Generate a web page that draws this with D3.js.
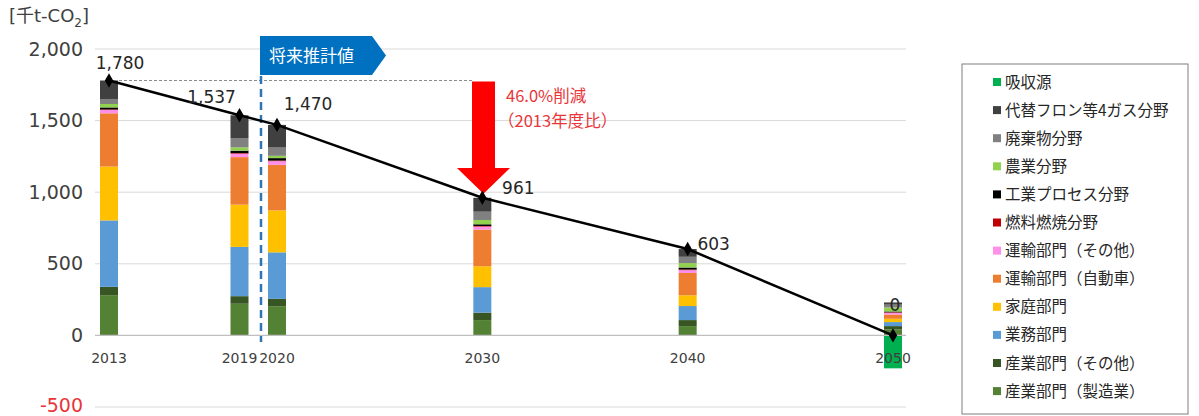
<!DOCTYPE html>
<html>
<head>
<meta charset="utf-8">
<script src="https://cdn.jsdelivr.net/npm/d3@7"></script>
<style>
  html, body { margin: 0; padding: 0; background: #fff; }
  svg { display: block; }
  .num { font-family: "DejaVu Sans", Verdana, sans-serif; }
  .jp { font-family: "Noto Sans CJK JP", sans-serif; }
</style>
</head>
<body>
<svg id="chart" width="1199" height="416"></svg>
<script>
// Emissions by sector, thousand t-CO2
const years = [2013, 2019, 2020, 2030, 2040, 2050];
const yearLabels = ["2013", "2019", "2020", "2030", "2040", "2050"];

const manufacturing     = [281, 221, 204, 107, 65, 42];   // 産業部門（製造業）
const industryOther     = [58, 53, 51, 52, 42, 23];       // 産業部門（その他）
const commercial        = [464, 344, 325, 178, 98, 28];   // 業務部門
const household         = [376, 295, 293, 146, 75, 23];   // 家庭部門
const vehicles          = [372, 332, 318, 256, 156, 30];  // 運輸部門（自動車）
const transportOther    = [23, 24, 26, 21, 20, 12];       // 運輸部門（その他）
const fuelCombustion    = [4, 4, 4, 4, 4, 3];             // 燃料燃焼分野
const industrialProcess = [14, 17, 17, 12, 14, 6];        // 工業プロセス分野
const agriculture       = [24, 23, 16, 30, 31, 28];       // 農業分野
const waste             = [35, 65, 58, 58, 44, 20];       // 廃棄物分野
const fluorinated       = [129, 159, 158, 97, 54, 15];    // 代替フロン等4ガス分野
const sink              = [0, 0, 0, 0, 0, -230];          // 吸収源

const totals = [1780, 1537, 1470, 961, 603, 0];
const totalLabels = ["1,780", "1,537", "1,470", "961", "603", "0"];

const yTicks = [-500, 0, 500, 1000, 1500, 2000];
const yTickLabels = ["-500", "0", "500", "1,000", "1,500", "2,000"];

// Series in stacking order (bottom to top)
const series = [
  { name: "産業部門（製造業）", values: manufacturing, color: "#548235" },
  { name: "産業部門（その他）", values: industryOther, color: "#375623" },
  { name: "業務部門", values: commercial, color: "#5B9BD5" },
  { name: "家庭部門", values: household, color: "#FFC000" },
  { name: "運輸部門（自動車）", values: vehicles, color: "#ED7D31" },
  { name: "運輸部門（その他）", values: transportOther, color: "#FF8FE8" },
  { name: "燃料燃焼分野", values: fuelCombustion, color: "#C00000" },
  { name: "工業プロセス分野", values: industrialProcess, color: "#000000" },
  { name: "農業分野", values: agriculture, color: "#92D050" },
  { name: "廃棄物分野", values: waste, color: "#808080" },
  { name: "代替フロン等4ガス分野", values: fluorinated, color: "#404040" },
  { name: "吸収源", values: sink, color: "#00B050" }
];

const svg = d3.select("#chart");

// Scales
const x = d3.scaleLinear()
  .domain([2013, 2019, 2020, 2050])
  .range([109, 239.5, 277, 893]);
const y = d3.scaleLinear().domain([-500, 2000]).range([407, 49]);
const barW = 18;
const plotLeft = 95, plotRight = 906;

// Gridlines
svg.append("g")
  .selectAll("line")
  .data(yTicks.filter(d => d !== 0))
  .join("line")
  .attr("x1", plotLeft).attr("x2", plotRight)
  .attr("y1", d => y(d)).attr("y2", d => y(d))
  .attr("stroke", "#D9D9D9").attr("stroke-width", 1);

// Y axis tick labels
const yAxis = d3.axisLeft(y).tickValues(yTicks).tickSize(0).tickPadding(0)
  .tickFormat((d, i) => yTickLabels[i]);
const yg = svg.append("g").attr("transform", "translate(83,0)").call(yAxis);
yg.select(".domain").remove();
yg.selectAll("text")
  .attr("class", "num")
  .style("font-size", "19px")
  .attr("dy", d => d < 0 ? "0.25em" : "0.32em")
  .attr("fill", d => d < 0 ? "#E8363A" : "#404040");

// Unit label
const unit = svg.append("text").attr("class", "num")
  .attr("x", 9).attr("y", 22)
  .attr("fill", "#404040").style("font-size", "18px");
unit.append("tspan").text("[");
unit.append("tspan").attr("class", "jp").text("千");
unit.append("tspan").text("t-CO");
unit.append("tspan").attr("dy", 5).style("font-size", "12px").text("2");
unit.append("tspan").attr("dy", -5).text("]");

// Stacked bars
const rows = years.map((yr, i) => {
  const r = { year: yr };
  series.forEach(s => { r[s.name] = s.values[i]; });
  return r;
});
const stack = d3.stack()
  .keys(series.map(s => s.name))
  .offset(d3.stackOffsetDiverging);
const stacked = stack(rows);

svg.append("g")
  .selectAll("g")
  .data(stacked)
  .join("g")
  .attr("fill", (d, i) => series[i].color)
  .selectAll("rect")
  .data(d => d)
  .join("rect")
  .attr("x", d => x(d.data.year) - barW / 2)
  .attr("width", barW)
  .attr("y", d => y(Math.max(d[0], d[1])))
  .attr("height", d => Math.abs(y(d[0]) - y(d[1])));

// Zero line
svg.append("line")
  .attr("x1", plotLeft).attr("x2", plotRight)
  .attr("y1", y(0)).attr("y2", y(0))
  .attr("stroke", "#BFBFBF").attr("stroke-width", 1.2);

// X axis labels
svg.append("g")
  .selectAll("text")
  .data(years)
  .join("text")
  .attr("class", "num")
  .attr("x", d => x(d))
  .attr("y", 363)
  .attr("text-anchor", "middle")
  .attr("fill", "#404040")
  .style("font-size", "14px")
  .text((d, i) => yearLabels[i]);

// Reference level of 2013 (dashed)
svg.append("line")
  .attr("x1", x(2013)).attr("x2", 472)
  .attr("y1", y(totals[0])).attr("y2", y(totals[0]))
  .attr("stroke", "#8C8C8C").attr("stroke-width", 1)
  .attr("stroke-dasharray", "3,2");

// Boundary between actual and projected values
svg.append("line")
  .attr("x1", 261).attr("x2", 261)
  .attr("y1", 76).attr("y2", 342)
  .attr("stroke", "#2E75B6").attr("stroke-width", 2.5)
  .attr("stroke-dasharray", "8,5");

// "将来推計値" tag
svg.append("path")
  .attr("d", "M260,36 L372,36 L386,55.5 L372,75 L260,75 Z")
  .attr("fill", "#0070C0");
svg.append("text").attr("class", "jp")
  .attr("x", 269).attr("y", 61.5)
  .attr("fill", "#fff").style("font-size", "17px")
  .text("将来推計値");

// Reduction arrow
const aTop = y(totals[0]) + 1, aTip = y(totals[3]) - 4;
svg.append("path")
  .attr("d", `M472,${aTop} L495,${aTop} L495,168 L510,168 L483.5,${aTip} L457,168 L472,168 Z`)
  .attr("fill", "#FF0000");
const note = svg.append("text").attr("class", "jp")
  .attr("fill", "#E8363A").style("font-size", "16.5px");
note.append("tspan").attr("x", 506).attr("y", 102).text("46.0%削減");
note.append("tspan").attr("x", 498).attr("dy", 24.5).text("（2013年度比）");

// Total line with diamond markers
const line = d3.line().x((d, i) => x(years[i])).y(d => y(d));
svg.append("path")
  .datum(totals)
  .attr("d", line)
  .attr("fill", "none")
  .attr("stroke", "#000")
  .attr("stroke-width", 2.5);
svg.append("g")
  .selectAll("path")
  .data(totals)
  .join("path")
  .attr("d", d3.symbol().type(d3.symbolDiamond).size(60))
  .attr("transform", (d, i) => `translate(${x(years[i])},${y(d)})`)
  .attr("fill", "#000");

// Total labels
const labelOffsets = [[11, -17], [-28, -18], [31, -21], [36, -10], [26, -5], [2, -30]];
svg.append("g")
  .selectAll("text")
  .data(totals)
  .join("text")
  .attr("class", "num")
  .attr("x", (d, i) => x(years[i]) + labelOffsets[i][0])
  .attr("y", (d, i) => y(d) + labelOffsets[i][1])
  .attr("dy", "0.35em")
  .attr("text-anchor", "middle")
  .attr("fill", "#262626")
  .style("font-size", "17px")
  .text((d, i) => totalLabels[i]);

// Legend (top entry = top of stack)
const legendItems = series.slice().reverse();
const lg = svg.append("g");
lg.append("rect")
  .attr("x", 962).attr("y", 64).attr("width", 226).attr("height", 350)
  .attr("fill", "#fff").attr("stroke", "#7F7F7F").attr("stroke-width", 1);
const item = lg.selectAll("g.item")
  .data(legendItems)
  .join("g")
  .attr("class", "item")
  .attr("transform", (d, i) => `translate(993,${82 + i * 28.1})`);
item.append("rect")
  .attr("x", 0).attr("y", -4).attr("width", 8).attr("height", 8)
  .attr("fill", d => d.color);
item.append("text")
  .attr("class", "jp")
  .attr("x", 12).attr("dy", "0.36em")
  .attr("fill", "#262626")
  .style("font-size", "15.5px")
  .text(d => d.name);
</script>
</body>
</html>
